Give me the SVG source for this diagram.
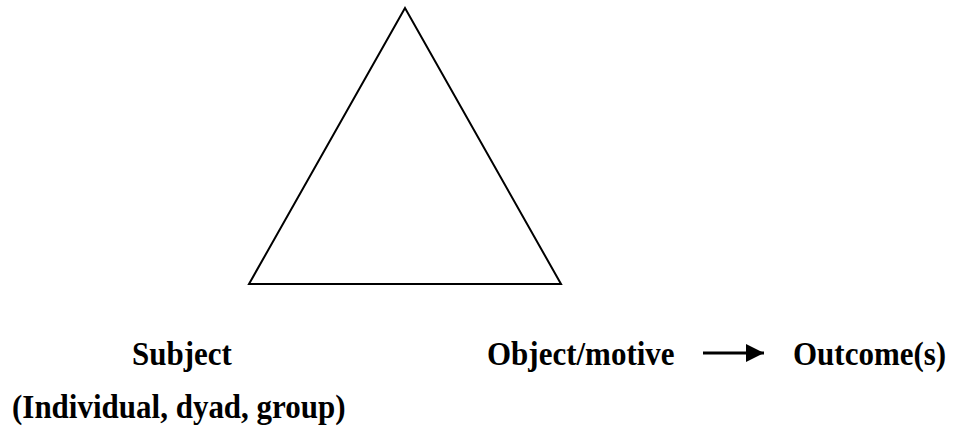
<svg xmlns="http://www.w3.org/2000/svg" width="953" height="430" viewBox="0 0 953 430">
  <style>
    .lbl { font-family: "Liberation Serif", "Times New Roman", serif; font-weight: bold; font-size: 31px; fill: #000; }
    .shape { fill: #fff; stroke: #000; stroke-width: 2; }
    .conn { stroke: #000; stroke-width: 3; fill: none; }
  </style>
  <defs>
    <marker id="arrow" markerWidth="6" markerHeight="6" refX="6" refY="3" orient="auto" markerUnits="strokeWidth">
      <path d="M0,0 L6,3 L0,6 Z" fill="#000"/>
    </marker>
  </defs>
  <rect width="953" height="430" fill="#fff"/>
  <g id="triangle">
    <polygon class="shape" points="405,8 249,284 561,284"/>
  </g>
  <g id="subject">
    <text class="lbl" transform="translate(132,365) scale(1,1.1)" x="0" y="0">Subject</text>
    <text class="lbl" transform="translate(12,418) scale(1,1.1)" x="0" y="0">(Individual, dyad, group)</text>
  </g>
  <g id="object">
    <text class="lbl" transform="translate(487,365) scale(1,1.1)" x="0" y="0">Object/motive</text>
  </g>
  <g id="outcome">
    <text class="lbl" transform="translate(793,365) scale(1,1.1)" x="0" y="0">Outcome(s)</text>
  </g>
  <g id="connectors">
    <line class="conn" x1="703" y1="353" x2="764" y2="353" marker-end="url(#arrow)"/>
  </g>
</svg>
